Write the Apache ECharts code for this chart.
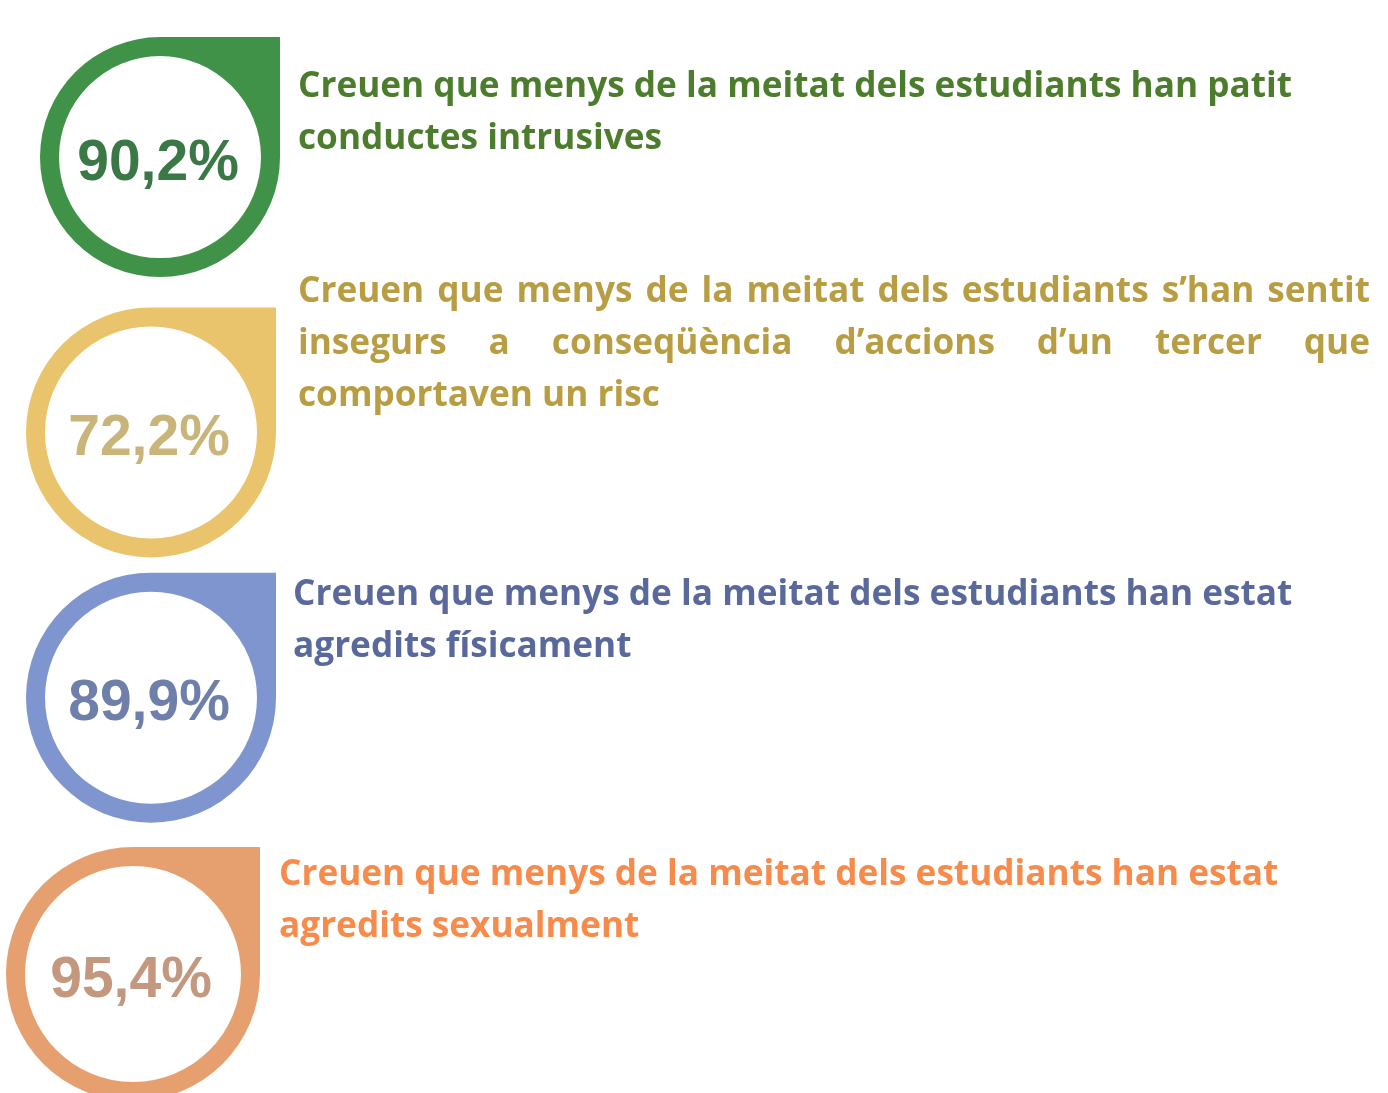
<!DOCTYPE html>
<html>
<head>
<meta charset="utf-8">
<script src="https://cdn.jsdelivr.net/npm/echarts@6/dist/echarts.min.js"></script>
<style>
  html, body { margin: 0; padding: 0; background: #fff; }
  #chart { width: 1388px; height: 1093px; }
</style>
</head>
<body>
<div id="chart"></div>
<script>
// data
const categories = ['Conductes intrusives', 'Insegurs', 'Agredits físicament', 'Agredits sexualment']
const percentages = [90.2, 72.2, 89.9, 95.4]
const descriptions = [
  ['Creuen que menys de la meitat dels estudiants han patit', 'conductes intrusives'],
  ['Creuen que menys de la meitat dels estudiants s’han sentit', 'insegurs a conseqüència d’accions d’un tercer que', 'comportaven un risc'],
  ['Creuen que menys de la meitat dels estudiants han estat', 'agredits físicament'],
  ['Creuen que menys de la meitat dels estudiants han estat', 'agredits sexualment']
]

// look
const ringColors = ['#3f9247', '#eac46c', '#7f95cf', '#e6a06f']
const numberColors = ['#3a7845', '#c9b47a', '#6e80aa', '#c4977f']
const textColors = ['#4b7d2d', '#b89d42', '#5a699c', '#f68b4b']
const badgeX = [160, 151, 151, 133]
const badgeDy = [0, 3, -4, 0]
const badgeR = [120, 125, 125, 127]
const ringWidth = 19
const textX = [298, 298, 293, 279]
const baselineDy = [-61, -129, -98, -90]
const lineHeight = 52
const justifyTo = [null, 1370, null, null]
const textFamily = '"Open Sans", sans-serif'
const numberFont = 'bold 57px "Liberation Sans", Arial, sans-serif'

const measureCtx = document.createElement('canvas').getContext('2d')
const measureAt = (str, size) => {
  measureCtx.font = `bold ${size}px ${textFamily}`
  return measureCtx.measureText(str).width
}
// first line of the first block spans ~995px in the original
const textSize = Math.round(34 * 995 / measureAt(descriptions[0][0], 34) * 10) / 10
const textFont = `bold ${textSize}px ${textFamily}`

const fmtPct = (v) => v.toFixed(1).replace('.', ',') + '%'

const dropPath = (cx, cy, r) =>
  `M${cx},${cy - r} L${cx + r},${cy - r} L${cx + r},${cy} A${r},${r} 0 1 1 ${cx},${cy - r} Z`

const lineElements = (line, x, y, color, right, isLast) => {
  const words = line.split(' ')
  if (!right || isLast || words.length < 2) {
    return [{
      type: 'text',
      style: { x, y, text: line, fill: color, font: textFont, align: 'left', verticalAlign: 'middle' }
    }]
  }
  const widths = words.map((w) => measureAt(w, textSize))
  const gap = (right - x - widths.reduce((a, b) => a + b, 0)) / (words.length - 1)
  let cursor = x
  return words.map((w, k) => {
    const el = {
      type: 'text',
      style: { x: cursor, y, text: w, fill: color, font: textFont, align: 'left', verticalAlign: 'middle' }
    }
    cursor += widths[k] + gap
    return el
  })
}

const renderItem = (params, api) => {
  const i = params.dataIndex
  const pos = api.coord([0, api.value(0)])
  const cx = badgeX[i]
  const cy = pos[1] + badgeDy[i]
  const r = badgeR[i]
  const children = [
    {
      type: 'path',
      shape: { pathData: dropPath(cx, cy, r) },
      style: { fill: ringColors[i] }
    },
    {
      type: 'circle',
      shape: { cx, cy, r: r - ringWidth },
      style: { fill: '#ffffff' }
    },
    {
      type: 'text',
      style: {
        x: cx - 2,
        y: cy + 7,
        text: fmtPct(api.value(1)),
        fill: numberColors[i],
        font: numberFont,
        align: 'center',
        verticalAlign: 'middle'
      }
    }
  ]
  const lines = descriptions[i]
  lines.forEach((line, k) => {
    const y = pos[1] + baselineDy[i] + k * lineHeight - textSize * 0.25
    children.push(...lineElements(line, textX[i], y, textColors[i], justifyTo[i], k === lines.length - 1))
  })
  return { type: 'group', children }
}

const chart = echarts.init(document.getElementById('chart'))
chart.setOption({
  backgroundColor: '#ffffff',
  animation: false,
  grid: { left: 0, right: 0, top: 0, bottom: 0 },
  xAxis: { type: 'value', min: 0, max: 100, show: false },
  yAxis: { type: 'value', min: -0.577, max: 3.437, inverse: true, show: false },
  series: [
    {
      type: 'custom',
      renderItem,
      data: percentages.map((v, i) => [i, v]),
      encode: { y: 0, x: 1 },
      clip: false
    }
  ]
})
</script>
</body>
</html>
